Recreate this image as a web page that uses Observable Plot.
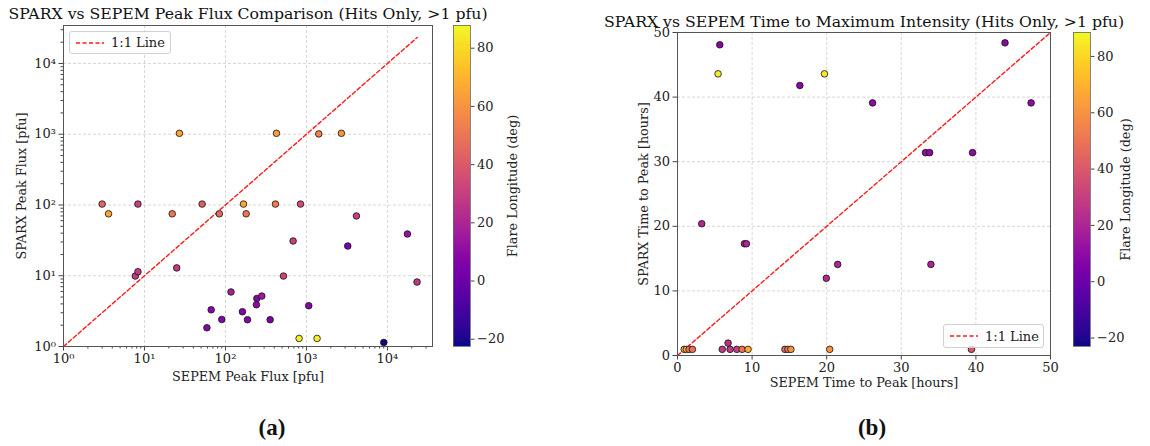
<!DOCTYPE html>
<html><head><meta charset="utf-8">
<script src="https://cdn.jsdelivr.net/npm/d3@7"></script>
<script src="https://cdn.jsdelivr.net/npm/@observablehq/plot@0.6"></script>
<style>
body{margin:0;background:#fff;}
#wrap{position:relative;width:1150px;height:446px;overflow:hidden;background:#fff;font-family:"DejaVu Serif",serif;}
#wrap svg{position:absolute;left:0;top:0;background:transparent;}
.legend{position:absolute;box-sizing:border-box;border:1px solid #d0d0d0;border-radius:3px;background:rgba(255,255,255,0.8);font-family:"DejaVu Serif",serif;font-size:13px;color:#222;}
.legend svg{position:absolute!important;}
.legend span{position:absolute;white-space:nowrap;line-height:1;}
.cap{position:absolute;font-family:"Liberation Serif","Times New Roman",serif;font-weight:bold;font-size:23px;color:#111;transform:translate(-50%,-50%);white-space:nowrap;}
</style></head><body><div id="wrap"></div>
<script>
// ---------- data ----------
const fluxSepem = [3.0, 3.6, 8.3, 7.7, 8.3, 22, 25, 51.5, 84, 59, 66.6, 90, 117, 167, 180, 162, 187, 244, 241, 281, 356, 414, 844, 684, 520, 811, 1352, 1067, 3236, 4140, 9010, 17650, 23200, 27, 426, 1419, 2700];
const fluxSparx = [103, 75, 103, 9.9, 11.4, 75, 12.9, 103, 75, 1.84, 3.3, 2.41, 5.9, 103, 75, 3.1, 2.39, 4.77, 3.89, 5.16, 2.39, 103, 103, 31, 9.9, 1.3, 1.3, 3.77, 26.3, 70, 1.14, 38.9, 8.15, 1030, 1030, 1010, 1030];
const fluxLon = [45, 65, 30, 28, 28, 50, 28, 42, 45, 8, 8, 8, 18, 65, 50, 8, 8, 8, 10, 15, 5, 52, 35, 30, 32, 85, 85, 8, 5, 30, -22, 12, 27, 65, 62, 55, 60];

const timeSepem = [5.67, 5.44, 16.4, 19.7, 26.15, 33.25, 33.8, 39.55, 43.9, 47.4, 3.25, 8.97, 9.24, 19.95, 21.47, 33.97, 6.78, 0.9, 1.2, 1.55, 2.0, 6.0, 7.05, 7.95, 8.66, 9.46, 14.4, 14.8, 15.2, 20.4, 39.4];
const timeSparx = [48.1, 43.6, 41.8, 43.6, 39.1, 31.4, 31.4, 31.4, 48.4, 39.1, 20.4, 17.3, 17.3, 11.95, 14.1, 14.1, 1.92, 0.95, 0.95, 0.95, 0.95, 0.95, 0.95, 0.95, 0.95, 0.95, 0.95, 0.95, 0.95, 0.95, 0.95];
const timeLon = [8, 85, 8, 85, 10, 10, 10, 10, 8, 10, 20, 20, 20, 22, 20, 20, 25, 65, 70, 50, 48, 28, 28, 30, 48, 68, 45, 50, 60, 60, 38];

const logTicks = [1, 10, 100, 1000, 10000];
const logTickLabels = ["10⁰", "10¹", "10²", "10³", "10⁴"];
const linTicks = [0, 10, 20, 30, 40, 50];
const cbTicks = [-20, 0, 20, 40, 60, 80];
const identityA = [1, 23300];
const identityB = [0, 50];
const fluxDomainX = [1, 36000];
const fluxDomainY = [1, 34400];
const timeDomain = [0, 50];
const lonDomainA = [-22.5, 87.8];
const lonDomainB = [-23, 88.5];

const titleA = "SPARX vs SEPEM Peak Flux Comparison (Hits Only, >1 pfu)";
const titleB = "SPARX vs SEPEM Time to Maximum Intensity (Hits Only, >1 pfu)";
const xLabelA = "SEPEM Peak Flux [pfu]";
const yLabelA = "SPARX Peak Flux [pfu]";
const xLabelB = "SEPEM Time to Peak [hours]";
const yLabelB = "SPARX Time to Peak [hours]";
const cbLabel = "Flare Longitude (deg)";
const legendLabel = "1:1 Line";

// ---------- build ----------
const W = 1150, H = 446;
const FONT = "DejaVu Serif";
const wrap = document.getElementById("wrap");
const baseStyle = {fontFamily: FONT, fontSize: "13px", color: "#222", background: "transparent", overflow: "visible"};
const gridStyle = {stroke: "#b8b8b8", strokeOpacity: 0.7, strokeDasharray: "3,2", strokeWidth: 0.8};
const dotStyle = {r: 3.3, stroke: "#111", strokeWidth: 0.8};
const idStyle = {stroke: "#ff1a1a", strokeWidth: 1.4, strokeDasharray: "4,2.5"};
const TITLE_FS = 15.7, LABEL_FS = 12.8;
const lbl = {textAnchor: "middle", lineAnchor: "middle", fill: "#222", fontSize: LABEL_FS};

const fluxData = fluxSepem.map((x, i) => ({x, y: fluxSparx[i], lon: fluxLon[i]}));
const timeData = timeSepem.map((x, i) => ({x, y: timeSparx[i], lon: timeLon[i]}));

const minorLog = [];
for (const dec of [1, 10, 100, 1000, 10000]) for (let m = 2; m <= 9; m++) minorLog.push(dec * m);
const fmtLog = d => logTickLabels[logTicks.indexOf(d)];

// Panel A
const A = Plot.plot({
  width: W, height: H, marginLeft: 63, marginRight: W - 432, marginTop: 25, marginBottom: H - 346,
  style: baseStyle,
  x: {type: "log", domain: fluxDomainX},
  y: {type: "log", domain: fluxDomainY},
  color: {type: "linear", scheme: "plasma", domain: lonDomainA},
  marks: [
    Plot.gridX({ticks: logTicks, ...gridStyle}),
    Plot.gridY({ticks: logTicks, ...gridStyle}),
    Plot.axisX({ticks: minorLog.filter(d => d < fluxDomainX[1]), tickSize: 2.5, tickFormat: () => "", label: null, stroke: "#444"}),
    Plot.axisY({ticks: minorLog.filter(d => d < fluxDomainY[1]), tickSize: 2.5, tickFormat: () => "", label: null, stroke: "#444"}),
    Plot.axisX({ticks: logTicks, tickSize: 4.5, tickPadding: 3, tickFormat: fmtLog, label: null, stroke: "#444", fill: "#222"}),
    Plot.axisY({ticks: logTicks, tickSize: 4.5, tickPadding: 3, tickFormat: fmtLog, label: null, stroke: "#444", fill: "#222"}),
    Plot.line(identityA, {x: d => d, y: d => d, ...idStyle}),
    Plot.dot(fluxData, {x: "x", y: "y", fill: "lon", ...dotStyle}),
    Plot.frame({stroke: "#555", strokeWidth: 1}),
    Plot.text([titleA], {text: d => d, frameAnchor: "top", dy: -11.7, ...lbl, fontSize: TITLE_FS, fill: "#111"}),
    Plot.text([xLabelA], {text: d => d, frameAnchor: "bottom", dy: 30, ...lbl}),
    Plot.text([yLabelA], {text: d => d, frameAnchor: "left", dx: -41.3, rotate: -90, ...lbl})
  ]
});

// Colorbar A
const cbA = Plot.plot({
  width: W, height: H, marginLeft: 453, marginRight: W - 470, marginTop: 25, marginBottom: H - 346,
  style: baseStyle,
  x: {domain: [0, 1], axis: null},
  y: {domain: lonDomainA},
  color: {type: "linear", scheme: "plasma", domain: lonDomainA},
  marks: [
    Plot.rect(d3.range(lonDomainA[0], lonDomainA[1], 0.2), {x1: () => 0, x2: () => 1, y1: d => d, y2: d => Math.min(d + 0.3, lonDomainA[1]), fill: d => d, shapeRendering: "crispEdges"}),
    Plot.axisY({ticks: cbTicks, anchor: "right", tickSize: 3.5, tickPadding: 3, label: null, stroke: "#444", fill: "#222"}),
    Plot.frame({stroke: "#666", strokeWidth: 0.8}),
    Plot.text([cbLabel], {text: d => d, frameAnchor: "right", dx: 42.7, rotate: -90, ...lbl})
  ]
});

// Panel B
const B = Plot.plot({
  width: W, height: H, marginLeft: 677, marginRight: W - 1050, marginTop: 32, marginBottom: H - 355,
  style: baseStyle,
  x: {domain: timeDomain},
  y: {domain: timeDomain},
  color: {type: "linear", scheme: "plasma", domain: lonDomainB},
  marks: [
    Plot.gridX({ticks: linTicks, ...gridStyle}),
    Plot.gridY({ticks: linTicks, ...gridStyle}),
    Plot.axisX({ticks: linTicks, tickSize: 4.5, tickPadding: 3, label: null, stroke: "#444", fill: "#222"}),
    Plot.axisY({ticks: linTicks, tickSize: 4.5, tickPadding: 3, label: null, stroke: "#444", fill: "#222"}),
    Plot.line(identityB, {x: d => d, y: d => d, ...idStyle}),
    Plot.dot(timeData, {x: "x", y: "y", fill: "lon", ...dotStyle}),
    Plot.frame({stroke: "#555", strokeWidth: 1}),
    Plot.text([titleB], {text: d => d, frameAnchor: "top", dy: -10.6, ...lbl, fontSize: TITLE_FS, fill: "#111"}),
    Plot.text([xLabelB], {text: d => d, frameAnchor: "bottom", dy: 27.7, ...lbl}),
    Plot.text([yLabelB], {text: d => d, frameAnchor: "left", dx: -34, rotate: -90, ...lbl})
  ]
});

// Colorbar B
const cbB = Plot.plot({
  width: W, height: H, marginLeft: 1073, marginRight: W - 1090, marginTop: 32, marginBottom: H - 346,
  style: baseStyle,
  x: {domain: [0, 1], axis: null},
  y: {domain: lonDomainB},
  color: {type: "linear", scheme: "plasma", domain: lonDomainB},
  marks: [
    Plot.rect(d3.range(lonDomainB[0], lonDomainB[1], 0.2), {x1: () => 0, x2: () => 1, y1: d => d, y2: d => Math.min(d + 0.3, lonDomainB[1]), fill: d => d, shapeRendering: "crispEdges"}),
    Plot.axisY({ticks: cbTicks, anchor: "right", tickSize: 3.5, tickPadding: 3, label: null, stroke: "#444", fill: "#222"}),
    Plot.frame({stroke: "#666", strokeWidth: 0.8}),
    Plot.text([cbLabel], {text: d => d, frameAnchor: "right", dx: 35, rotate: -90, ...lbl})
  ]
});

for (const p of [A, cbA, B, cbB]) wrap.appendChild(p);

// Legends
function legend(left, top, w, h) {
  const div = document.createElement("div");
  div.className = "legend";
  Object.assign(div.style, {left: left + "px", top: top + "px", width: w + "px", height: h + "px"});
  div.innerHTML = `<svg width="30" height="6" style="left:5px;top:${h / 2 - 4}px"><line x1="1" y1="3" x2="29" y2="3" stroke="#ff1a1a" stroke-width="1.5" stroke-dasharray="4,2.5"/></svg><span style="left:41px;top:${h / 2 - 7.5}px">${legendLabel}</span>`;
  wrap.appendChild(div);
}
legend(69, 31, 102, 23);
legend(943, 324, 101, 24);

// Captions
function cap(text, x, y) {
  const d = document.createElement("div");
  d.className = "cap";
  d.textContent = text;
  d.style.left = x + "px";
  d.style.top = y + "px";
  wrap.appendChild(d);
}
cap("(a)", 272, 428);
cap("(b)", 872, 428);
</script></body></html>
